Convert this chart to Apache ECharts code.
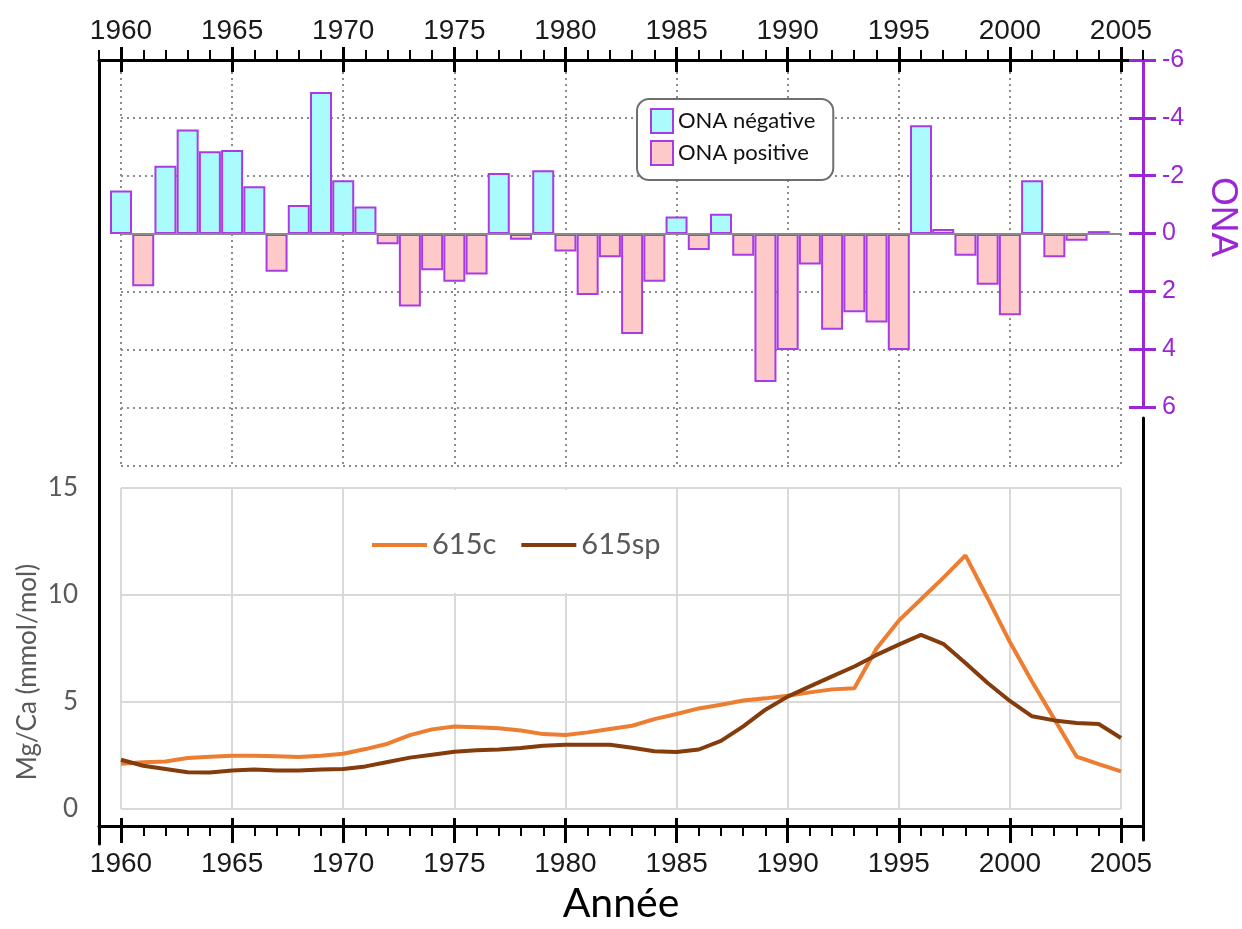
<!DOCTYPE html>
<html>
<head>
<meta charset="utf-8">
<title>ONA et Mg/Ca</title>
<script src="https://cdn.jsdelivr.net/npm/echarts@6.0.0/dist/echarts.min.js"></script>
<style>
	body { margin: 0; background: #fff; }
	#chart { width: 1242px; height: 929px; }
</style>
</head>
<body>
<div id="chart"></div>
<script>
// annees (axe commun)
var years = [1960, 1961, 1962, 1963, 1964, 1965, 1966, 1967, 1968, 1969,
	1970, 1971, 1972, 1973, 1974, 1975, 1976, 1977, 1978, 1979,
	1980, 1981, 1982, 1983, 1984, 1985, 1986, 1987, 1988, 1989,
	1990, 1991, 1992, 1993, 1994, 1995, 1996, 1997, 1998, 1999,
	2000, 2001, 2002, 2003, 2004, 2005];

// indice ONA 1960-2004 (axe inverse : negatif en haut)
var ona = [-1.5, 1.8, -2.35, -3.6, -2.85, -2.9, -1.65, 1.3, -1.0, -4.9,
	-1.85, -0.95, 0.35, 2.5, 1.25, 1.65, 1.4, -2.1, 0.2, -2.2,
	0.6, 2.1, 0.8, 3.45, 1.65, -0.6, 0.55, -0.7, 0.75, 5.1,
	4.0, 1.05, 3.3, 2.7, 3.05, 4.0, -3.75, -0.17, 0.75, 1.75,
	2.8, -1.85, 0.8, 0.23, -0.1];

// Mg/Ca (mmol/mol)
var mgca615c = [2.12, 2.18, 2.22, 2.38, 2.44, 2.49, 2.49, 2.46, 2.43, 2.49,
	2.58, 2.8, 3.05, 3.45, 3.72, 3.86, 3.82, 3.77, 3.67, 3.5,
	3.46, 3.58, 3.74, 3.89, 4.2, 4.44, 4.7, 4.87, 5.07, 5.17,
	5.29, 5.45, 5.59, 5.64, 7.5, 8.8, 9.8, 10.8, 11.85, 9.85,
	7.8, 5.95, 4.2, 2.45, 2.1, 1.76];
var mgca615sp = [2.3, 2.02, 1.87, 1.72, 1.71, 1.8, 1.85, 1.8, 1.8, 1.85,
	1.87, 1.99, 2.2, 2.4, 2.54, 2.68, 2.75, 2.78, 2.85, 2.96,
	3.0, 3.0, 3.0, 2.86, 2.7, 2.66, 2.78, 3.18, 3.86, 4.64,
	5.25, 5.73, 6.2, 6.66, 7.2, 7.68, 8.14, 7.72, 6.82, 5.89,
	5.05, 4.33, 4.14, 4.02, 3.97, 3.32];

var onaTicks = [-6, -4, -2, 0, 2, 4, 6];
var mgTicks = [0, 5, 10, 15];

var purple = '#9a26d6';
var barBorder = '#a93be6';
var sansFont = 'Liberation Sans';
var officeFont = 'Lato';

/**
 * separe l'indice ONA selon son signe
 */
function onaPart(negative) {
	var out = [];
	for (var i = 0; i < ona.length; i++) {
		if ((negative && ona[i] < 0) || (!negative && ona[i] >= 0)) {
			out.push([years[i], ona[i]]);
		}
	}
	return out;
}

function pairs(values) {
	var out = [];
	for (var i = 0; i < values.length; i++) {
		out.push([years[i], values[i]]);
	}
	return out;
}

// axe vide, jamais colle au zero de l'autre axe
function blank(extra) {
	var ax = {
		axisLine : { show : false, onZero : false },
		axisTick : { show : false },
		axisLabel : { show : false },
		splitLine : { show : false }
	};
	for (var k in extra) {
		if (k == 'axisLine') {
			ax.axisLine = Object.assign({ onZero : false }, extra[k]);
		} else {
			ax[k] = extra[k];
		}
	}
	return ax;
}

var dotted = { color : '#8c8c8c', width : 2, type : [2, 4] };

var option = {
	backgroundColor : '#fff',
	animation : false,
	grid : [
		{ left : 99, top : 60, width : 1044, height : 788 },	// cadre
		{ left : 121, top : 60, width : 1000, height : 406 },	// barres ONA
		{ left : 99, top : 60, width : 1044, height : 347 },	// axe ONA
		{ left : 121, top : 488, width : 1000, height : 321 },	// Mg/Ca
		{ left : 1043, top : 418, width : 100, height : 422 }	// bord droit
	],
	xAxis : [
		// cadre haut, graduations annuelles
		blank({
			gridIndex : 0, type : 'value', position : 'top',
			min : 1959, max : 2006, interval : 1,
			axisLine : { show : true, lineStyle : { color : '#000', width : 3 } },
			axisTick : { show : true, length : 10, lineStyle : { color : '#000', width : 2 } }
		}),
		// cadre bas
		blank({
			gridIndex : 0, type : 'value', position : 'bottom', offset : -18,
			min : 1959, max : 2006, interval : 1,
			axisLine : { show : true, lineStyle : { color : '#000', width : 3 } },
			axisTick : { show : true, length : 10, lineStyle : { color : '#000', width : 2 } },
			name : 'Année', nameLocation : 'middle', nameGap : 57,
			nameTextStyle : { fontFamily : officeFont, fontSize : 41, color : '#000' }
		}),
		// ligne zero des barres
		blank({
			gridIndex : 1, type : 'value', position : 'bottom', z : 3,
			min : 1960, max : 2005, interval : 5,
			axisLine : { show : true, onZero : true, lineStyle : { color : '#8a8a8a', width : 2 } }
		}),
		// graduations principales en haut + libelles
		blank({
			gridIndex : 1, type : 'value', position : 'top',
			min : 1960, max : 2005, interval : 5,
			axisTick : { show : true, length : 13, lineStyle : { color : '#000', width : 3 } },
			axisLabel : { show : true, margin : 15, fontFamily : sansFont, fontSize : 28, color : '#1a1a1a',
				formatter : function(v) { return String(v); } },
			splitLine : { show : true, lineStyle : dotted }
		}),
		blank({
			gridIndex : 1, type : 'value', position : 'top',
			min : 1960, max : 2005, interval : 5,
			axisTick : { show : true, inside : true, length : 12, lineStyle : { color : '#000', width : 3 } }
		}),
		blank({ gridIndex : 2, type : 'value', min : 0, max : 1 }),
		// Mg/Ca
		blank({
			gridIndex : 3, type : 'value', position : 'bottom',
			min : 1960, max : 2005, interval : 5,
			splitLine : { show : true, lineStyle : { color : '#d9d9d9', width : 2 } }
		}),
		blank({
			gridIndex : 3, type : 'value', position : 'bottom', offset : 21,
			min : 1960, max : 2005, interval : 5,
			axisTick : { show : true, length : 13, lineStyle : { color : '#000', width : 3 } },
			axisLabel : { show : true, margin : 20, fontFamily : sansFont, fontSize : 28, color : '#1a1a1a',
				formatter : function(v) { return String(v); } }
		}),
		blank({
			gridIndex : 3, type : 'value', position : 'bottom', offset : 21,
			min : 1960, max : 2005, interval : 5,
			axisTick : { show : true, inside : true, length : 12, lineStyle : { color : '#000', width : 3 } }
		}),
		blank({ gridIndex : 4, type : 'value', min : 0, max : 1 })
	],
	yAxis : [
		blank({
			gridIndex : 0, type : 'value', position : 'left', min : 0, max : 1,
			axisLine : { show : true, lineStyle : { color : '#000', width : 3 } }
		}),
		blank({
			gridIndex : 1, type : 'value', inverse : true,
			min : -6, max : 8, interval : 2,
			splitLine : { show : true, lineStyle : dotted }
		}),
		// axe ONA (violet)
		blank({
			gridIndex : 2, type : 'value', position : 'right', inverse : true,
			min : onaTicks[0], max : onaTicks[onaTicks.length - 1], interval : 2,
			axisLine : { show : true, lineStyle : { color : purple, width : 3 } },
			axisTick : { show : true, length : 13, lineStyle : { color : purple, width : 3 } },
			axisLabel : { show : true, margin : 19, fontFamily : sansFont, fontSize : 25, color : purple }
		}),
		blank({
			gridIndex : 2, type : 'value', position : 'right', inverse : true,
			min : onaTicks[0], max : onaTicks[onaTicks.length - 1], interval : 2,
			axisTick : { show : true, inside : true, length : 14, lineStyle : { color : purple, width : 3 } }
		}),
		blank({
			gridIndex : 3, type : 'value',
			min : mgTicks[0], max : mgTicks[mgTicks.length - 1], interval : 5,
			axisLabel : { show : true, margin : 43, fontFamily : officeFont, fontSize : 26, color : '#595959' },
			splitLine : { show : true, lineStyle : { color : '#d9d9d9', width : 2 } }
		}),
		blank({
			gridIndex : 4, type : 'value', position : 'right', min : 0, max : 1,
			axisLine : { show : true, lineStyle : { color : '#000', width : 3 } }
		})
	],
	legend : [ {
		data : [ 'ONA négative', 'ONA positive' ],
		orient : 'vertical',
		left : 637,
		top : 99,
		icon : 'rect',
		itemWidth : 22,
		itemHeight : 24,
		itemGap : 6,
		itemStyle : { borderColor : barBorder, borderWidth : 2 },
		textStyle : { fontFamily : officeFont, fontSize : 22, color : '#111', lineHeight : 24 },
		backgroundColor : '#fff',
		borderColor : '#6e6e6e',
		borderWidth : 2,
		borderRadius : 12,
		padding : [ 9, 18, 14, 13 ]
	}, {
		data : [ '615c', '615sp' ],
		orient : 'horizontal',
		left : 350,
		top : 490,
		icon : 'rect',
		itemWidth : 55,
		itemHeight : 4,
		itemGap : 25,
		textStyle : { fontFamily : officeFont, fontSize : 29, color : '#595959', lineHeight : 34 },
		backgroundColor : '#fff',
		padding : [ 38, 10, 31, 22 ]
	} ],
	graphic : [ {
		type : 'text',
		x : 1222,
		y : 217,
		rotation : -Math.PI / 2,
		style : { text : 'ONA', font : '37px "Liberation Sans"', fill : purple, align : 'center', verticalAlign : 'middle' }
	}, {
		type : 'text',
		x : 28,
		y : 672,
		rotation : Math.PI / 2,
		style : { text : 'Mg/Ca (mmol/mol)', font : '26px Lato', fill : '#595959', align : 'center', verticalAlign : 'middle' }
	} ],
	series : [ {
		name : 'ONA négative',
		type : 'bar',
		xAxisIndex : 2,
		yAxisIndex : 1,
		barWidth : 22,
		barGap : '-100%',
		clip : false,
		itemStyle : { color : '#aafcfc', borderColor : barBorder, borderWidth : 2 },
		data : onaPart(true)
	}, {
		name : 'ONA positive',
		type : 'bar',
		xAxisIndex : 2,
		yAxisIndex : 1,
		barWidth : 22,
		barGap : '-100%',
		clip : false,
		itemStyle : { color : '#fdc9c9', borderColor : barBorder, borderWidth : 2 },
		data : onaPart(false)
	}, {
		name : '615c',
		type : 'line',
		xAxisIndex : 6,
		yAxisIndex : 4,
		symbol : 'none',
		itemStyle : { color : '#ed7d31' },
		lineStyle : { color : '#ed7d31', width : 4 },
		data : pairs(mgca615c)
	}, {
		name : '615sp',
		type : 'line',
		xAxisIndex : 6,
		yAxisIndex : 4,
		symbol : 'none',
		itemStyle : { color : '#843c0c' },
		lineStyle : { color : '#843c0c', width : 4 },
		data : pairs(mgca615sp)
	} ]
};

var chart = echarts.init(document.getElementById('chart'), null, { renderer : 'canvas' });
chart.setOption(option);
</script>
</body>
</html>
